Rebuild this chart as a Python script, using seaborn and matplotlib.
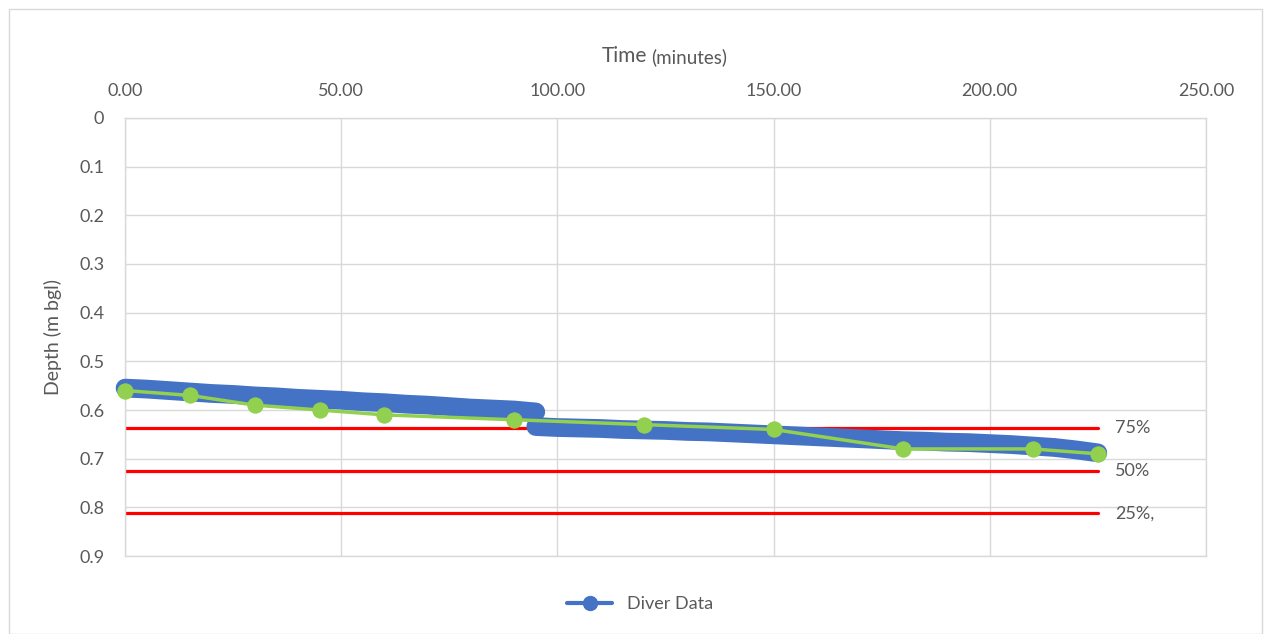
import numpy as np
import pandas as pd
import seaborn as sns
import matplotlib.pyplot as plt
from matplotlib.lines import Line2D
from matplotlib.patches import Rectangle

# Diver logger data, two runs either side of the step at 95 min
diver_time_1 = [0, 5, 10, 15, 20, 25, 30, 35, 40, 45, 50, 55, 60, 65, 70, 75, 80, 85, 90, 95]
diver_depth_1 = [0.555, 0.557, 0.560, 0.563, 0.566, 0.568, 0.571, 0.573, 0.576, 0.578,
                 0.580, 0.583, 0.585, 0.588, 0.590, 0.593, 0.596, 0.598, 0.600, 0.604]
diver_time_2 = [95, 100, 105, 110, 115, 120, 125, 130, 135, 140, 145, 150, 155, 160,
                165, 170, 175, 180, 185, 190, 195, 200, 205, 210, 215, 220, 225]
diver_depth_2 = [0.634, 0.636, 0.637, 0.638, 0.640, 0.641, 0.642, 0.644, 0.645, 0.647,
                 0.649, 0.651, 0.653, 0.655, 0.657, 0.659, 0.661, 0.663, 0.664, 0.666,
                 0.667, 0.669, 0.671, 0.674, 0.677, 0.682, 0.688]

# Manual dip readings
manual_time = [0, 15, 30, 45, 60, 90, 120, 150, 180, 210, 225]
manual_depth = [0.56, 0.57, 0.59, 0.60, 0.61, 0.62, 0.63, 0.64, 0.68, 0.68, 0.69]

# Recovery levels
level_labels = ['75%', '50%', '25%,']
level_depths = [0.637, 0.725, 0.812]
level_end = 225

df_diver = pd.concat([
    pd.DataFrame({'time': diver_time_1, 'depth': diver_depth_1, 'run': 1}),
    pd.DataFrame({'time': diver_time_2, 'depth': diver_depth_2, 'run': 2}),
])
df_manual = pd.DataFrame({'time': manual_time, 'depth': manual_depth})

sns.set_style('white')
plt.rcParams['font.family'] = ['Lato', 'DejaVu Sans']
text_col = '#595959'
blue = '#4472C4'
green = '#92D050'

fig = plt.figure(figsize=(12.67, 6.34), dpi=100)
ax = fig.add_axes([0.0987, 0.123, 0.8531, 0.6909])

# Diver data - thick band
for run, grp in df_diver.groupby('run'):
    sns.lineplot(data=grp, x='time', y='depth', color=blue, linewidth=13.5,
                 ax=ax, sort=False, solid_capstyle='round', zorder=3, clip_on=False)

# Red recovery lines
for d in level_depths:
    ax.plot([0, level_end], [d, d], color='red', linewidth=2.3, zorder=2)
for lab, d in zip(level_labels, level_depths):
    ax.text(229, d, lab, color=text_col, fontsize=13, va='center', ha='left')

# Manual readings
sns.lineplot(data=df_manual, x='time', y='depth', color=green, linewidth=2.5,
             marker='o', markersize=11, markeredgecolor=green, ax=ax, zorder=4, clip_on=False)

# Axes
ax.set_xlim(0, 250)
ax.set_ylim(0.9, 0)
ax.xaxis.tick_top()
ax.set_xticks(np.arange(0, 251, 50))
ax.set_xticklabels([f'{v:.2f}' for v in np.arange(0, 251, 50)])
ax.set_yticks(np.arange(0, 0.91, 0.1))
ax.set_yticklabels(['0'] + [f'{v:.1f}' for v in np.arange(0.1, 0.91, 0.1)])
ax.tick_params(axis='both', length=0, labelsize=13, labelcolor=text_col)
ax.tick_params(axis='x', pad=14)
ax.tick_params(axis='y', pad=15)
ax.grid(True, color='#d9d9d9', linewidth=1)
ax.set_axisbelow(True)
for s in ax.spines.values():
    s.set_color('#d9d9d9')
    s.set_linewidth(1)
ax.set_xlabel('')
ax.set_ylabel('Depth (m bgl)', fontsize=14, color=text_col, labelpad=12)

# Axis title on top
fig.text(647 / 1267, 1 - 56 / 634, 'Time', fontsize=15, color=text_col, ha='right', va='center')
fig.text(651 / 1267, 1 - 57 / 634, '(minutes)', fontsize=13.5, color=text_col, ha='left', va='center')

# Legend
handle = Line2D([], [], color=blue, linewidth=3, marker='o', markersize=10)
fig.legend([handle], ['Diver Data'], loc='center', bbox_to_anchor=(640 / 1267, 1 - 604 / 634),
           frameon=False, fontsize=13, labelcolor=text_col, handlelength=2.5)

# Chart border
fig.patches.append(Rectangle((9 / 1267, 0), 1253 / 1267, 1 - 9 / 634, transform=fig.transFigure,
                             fill=False, edgecolor='#d9d9d9', linewidth=1))

fig.savefig('out.png', dpi=100)
